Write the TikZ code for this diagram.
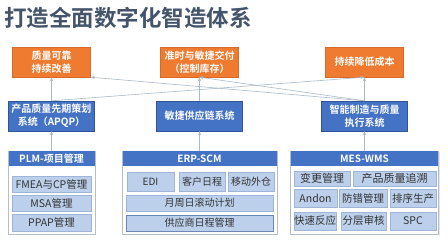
\documentclass[tikz,border=0pt]{standalone}
\usepackage{fontspec}
\setmainfont{Noto Sans CJK SC}[BoldFont={Noto Sans CJK SC Bold}]
\usepackage{xcolor}
\usetikzlibrary{arrows.meta,positioning,shadows}

\definecolor{titlegray}{HTML}{44546A}
\definecolor{goalfill}{HTML}{EE7B30}
\definecolor{goalline}{HTML}{D9692A}
\definecolor{sysfill}{HTML}{4472C4}
\definecolor{sysline}{HTML}{2F5597}
\definecolor{panelline}{HTML}{B4BECB}
\definecolor{itemfill}{HTML}{BCD0EC}
\definecolor{itemline}{HTML}{9EB5D8}
\definecolor{itemtext}{HTML}{333333}
\definecolor{linkgray}{HTML}{A9BAC8}

\begin{document}
\begin{tikzpicture}[x=1pt, y=-1pt,
      goal/.style={draw=goalline, fill=goalfill, text=white, align=center, font=\bfseries\fontsize{10}{13}\selectfont, minimum width=78pt, minimum height=30pt, inner sep=1pt},
      sys/.style={draw=sysline, fill=sysfill, text=white, align=center, font=\bfseries\fontsize{10}{13}\selectfont, minimum width=86pt, minimum height=30pt, inner sep=1pt},
      panel/.style={draw=panelline, fill=white, minimum height=83pt, inner sep=0pt, drop shadow={opacity=0.2, shadow xshift=1pt, shadow yshift=-1pt}},
      head/.style={fill=sysfill, text=white, font=\bfseries\fontsize{10}{12}\selectfont, minimum height=15pt, inner sep=0pt},
      item/.style={draw=itemline, fill=itemfill, text=itemtext, font=\fontsize{10.5}{12}\selectfont, inner sep=0pt},
      arr/.style={-{Stealth[length=4pt, width=3pt]}, draw=linkgray, line width=0.6pt}
    ]
      \useasboundingbox[fill=white] (0,0) rectangle (448,240);
      \node[anchor=west, inner sep=0pt, text=titlegray, font=\bfseries\fontsize{22.5}{24}\selectfont] (title) at (4,18) {打造全面数字化智造体系};

      % goals
      \node[goal] (o1) at (51.5,62) {质量可靠\\持续改善};
      \node[goal] (o2) at (199.5,62) {准时与敏捷交付\\（控制库存）};
      \node[goal] (o3) at (364.5,62) {持续降低成本};

      % systems
      \node[sys] (b1) at (51.5,116) {产品质量先期策划\\系统（APQP）};
      \node[sys] (b2) at (199.5,116) {敏捷供应链系统};
      \node[sys] (b3) at (364.5,116) {智能制造与质量\\执行系统};

      % panels
      \node[panel, minimum width=87pt] (plm) at (51.5,192.5) {};
      \node[panel, minimum width=155pt] (erp) at (199.5,192.5) {};
      \node[panel, minimum width=148pt] (mes) at (364.5,192.5) {};
      \node[head, minimum width=86pt] (plmhead) at (51.5,158.5) {PLM-项目管理};
      \node[head, minimum width=154pt] (erphead) at (199.5,159) {ERP-SCM};
      \node[head, minimum width=147pt] (meshead) at (364.5,159) {MES-WMS};

      % PLM
      \node[item, minimum width=79pt, minimum height=16pt] (fmea) at (51.5,184) {FMEA与CP管理};
      \node[item, minimum width=79pt, minimum height=16pt] (msa) at (51.5,203) {MSA管理};
      \node[item, minimum width=79pt, minimum height=17pt] (ppap) at (51.5,222.5) {PPAP管理};

      % ERP
      \node[item, font=\fontsize{10}{12}\selectfont, minimum width=47pt, minimum height=19pt] (edi) at (150.5,182) {EDI};
      \node[item, font=\fontsize{10}{12}\selectfont, minimum width=46pt, minimum height=19pt] (kehu) at (202,182) {客户日程};
      \node[item, font=\fontsize{10}{12}\selectfont, minimum width=46pt, minimum height=19pt] (yidong) at (251,182) {移动外仓};
      \node[item, font=\fontsize{10}{12}\selectfont, minimum width=147pt, minimum height=16pt] (gundong) at (199.5,203) {月周日滚动计划};
      \node[item, font=\fontsize{10}{12}\selectfont, draw=sysline!70, minimum width=147pt, minimum height=16pt] (gys) at (199.5,223) {供应商日程管理};

      % MES
      \node[item, font=\fontsize{11}{12}\selectfont, minimum width=56pt, minimum height=15pt] (biangeng) at (322,178.5) {变更管理};
      \node[item, font=\fontsize{11}{12}\selectfont, minimum width=83pt, minimum height=15pt] (zhuisu) at (394.5,178.5) {产品质量追溯};
      \node[item, minimum width=43pt, minimum height=18pt] (andon) at (315.5,198.5) {Andon};
      \node[item, minimum width=48pt, minimum height=18pt] (fangcuo) at (363,198.5) {防错管理};
      \node[item, minimum width=46pt, minimum height=18pt] (paixu) at (413,198.5) {排序生产};
      \node[item, minimum width=42pt, minimum height=18pt] (kuaisu) at (315,221) {快速反应};
      \node[item, minimum width=45pt, minimum height=18pt] (fenceng) at (363.5,221) {分层审核};
      \node[item, minimum width=46pt, minimum height=18pt] (spc) at (413,221) {SPC};

      % links
      \draw[arr] (plm) -- (b1);
      \draw[arr] (erp) -- (b2);
      \draw[arr] (mes) -- (b3);
      \draw[arr] (b1) -- (o1);
      \draw[arr] (b2) -- (o2);
      \draw[arr] (b3) -- (o3);
      \draw[arr] (b1.north) -- (o3.south);
      \draw[arr] (b3.north) -- (o1.south east);
      \draw[arr] (b3.north) -- (o2.south);
    \end{tikzpicture}
\end{document}
